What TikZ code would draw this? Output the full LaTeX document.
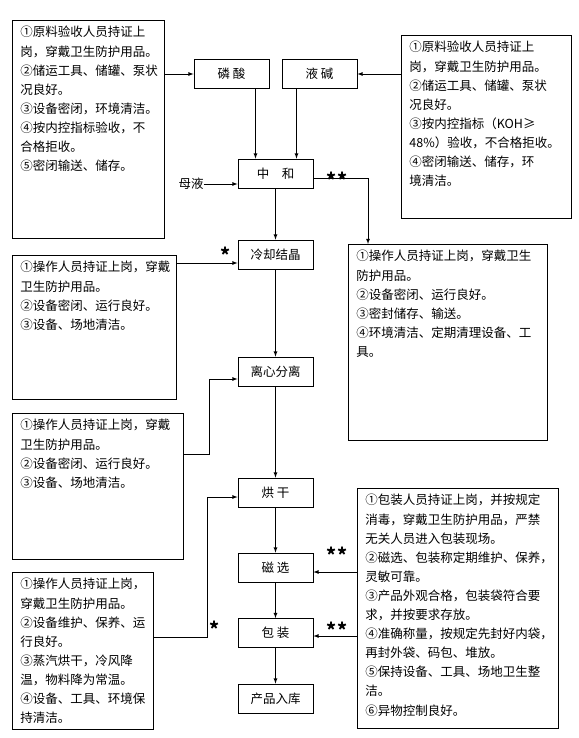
\documentclass[tikz,border=0pt]{standalone}
\usepackage{fontspec}
\setmainfont{Noto Sans CJK SC}

\newcommand{\notetext}[3]{\begin{minipage}[t][#2][t]{#1}#3\end{minipage}}

\tikzset{
	stepbox/.style={draw, line width=0.8pt, minimum width=75pt, minimum height=29pt, inner sep=0pt, font=\fontsize{12.5pt}{15pt}\selectfont},
	note/.style={draw, line width=0.8pt, anchor=north west, inner xsep=8pt, inner ysep=6pt, font=\fontsize{12.5pt}{19.1pt}\selectfont},
	arr/.style={-latex, line width=0.8pt},
	starlab/.style={inner sep=0pt, font=\bfseries\fontsize{19pt}{19pt}\selectfont}
}

\begin{document}
\begin{tikzpicture}[x=1pt,y=-1pt]
		\useasboundingbox (0,0) rectangle (578,738);
		% process steps
		\node[stepbox] (ls) at (231.5,74) {磷 酸};
		\node[stepbox] (yj) at (319.5,74) {液 碱};
		\node[stepbox] (zh) at (275.5,173.5) {中　和};
		\node[stepbox] (lq) at (275.5,254.5) {冷却结晶};
		\node[stepbox] (lx) at (275.5,371.5) {离心分离};
		\node[stepbox] (hg) at (275.5,492.5) {烘 干};
		\node[stepbox] (cx) at (275.5,567.5) {磁 选};
		\node[stepbox] (bz) at (275.5,633) {包 装};
		\node[stepbox] (rk) at (275.5,698.5) {产品入库};
		\node[inner sep=0pt, font=\fontsize{12.5pt}{15pt}\selectfont] (my) at (191,184) {母液};
		% notes
		\node[note] (lk1) at (12,20) {\notetext{136pt}{206pt}{%
			①原料验收人员持证上\\岗，穿戴卫生防护用品。\\②储运工具、储罐、泵状\\况良好。\\③设备密闭，环境清洁。\\④按内控指标验收，不\\合格拒收。\\⑤密闭输送、储存。}};
		\node[note] (rk1) at (401,35) {\notetext{154pt}{171pt}{%
			①原料验收人员持证上\\岗，穿戴卫生防护用品。\\②储运工具、储罐、泵状\\况良好。\\③按内控指标（KOH≥\\48\%）验收，不合格拒收。\\④密闭输送、储存，环\\境清洁。}};
		\node[note] (lk2) at (12,255) {\notetext{148pt}{132pt}{%
			①操作人员持证上岗，穿戴\\卫生防护用品。\\②设备密闭、运行良好。\\③设备、场地清洁。}};
		\node[note] (rk2) at (348,244) {\notetext{183pt}{184pt}{%
			①操作人员持证上岗，穿戴卫生\\防护用品。\\②设备密闭、运行良好。\\③密封储存、输送。\\④环境清洁、定期清理设备、工\\具。}};
		\node[note] (lk3) at (12,413) {\notetext{155pt}{134pt}{%
			①操作人员持证上岗，穿戴\\卫生防护用品。\\②设备密闭、运行良好。\\③设备、场地清洁。}};
		\node[note] (lk4) at (12,572) {\notetext{125pt}{145pt}{%
			①操作人员持证上岗，\\穿戴卫生防护用品。\\②设备维护、保养、运\\行良好。\\③蒸汽烘干，冷风降\\温，物料降为常温。\\④设备、工具、环境保\\持清洁。}};
		\node[note] (rk3) at (357,488) {\notetext{185pt}{228pt}{%
			①包装人员持证上岗，并按规定\\消毒，穿戴卫生防护用品，严禁\\无关人员进入包装现场。\\②磁选、包装称定期维护、保养，\\灵敏可靠。\\③产品外观合格，包装袋符合要\\求，并按要求存放。\\④准确称量，按规定先封好内袋，\\再封外袋、码包、堆放。\\⑤保持设备、工具、场地卫生整\\洁。\\⑥异物控制良好。}};
		% stars
		\node[starlab] (s1) at (337,180) {**};
		\node[starlab] (s2) at (226,255) {*};
		\node[starlab] (s3) at (337,555) {**};
		\node[starlab] (s4) at (337,630) {**};
		\node[starlab] (s5) at (215,629) {*};
		% connectors
		\draw[arr] (lk1.east |- ls.west) -- (ls.west);
		\draw[arr] (rk1.west |- yj.east) -- (yj.east);
		\draw[arr] ([xshift=-20pt]zh.north |- ls.south) -- ([xshift=-20pt]zh.north);
		\draw[arr] ([xshift=21pt]zh.north |- yj.south) -- ([xshift=21pt]zh.north);
		\draw[arr] (my.east) -- (my.east -| zh.west);
		\draw[arr] (zh) -- (lq);
		\draw[arr] ([yshift=-4.5pt]zh.east) -| ([xshift=20pt]rk2.north west);
		\draw[arr] ([yshift=-8.5pt]lq.west -| lk2.east) -- ([yshift=-8.5pt]lq.west);
		\draw[arr] (lq) -- (lx);
		\draw[arr] ([yshift=-41pt]lk3.north east) -- ++(26,0) |- ([yshift=-7.5pt]lx.west);
		\draw[arr] (lx) -- (hg);
		\draw[arr] ([yshift=-65pt]lk4.north east) -- ++(54,0) |- ([yshift=-4.5pt]hg.west);
		\draw[arr] (hg) -- (cx);
		\draw[arr] (cx) -- (bz);
		\draw[arr] (bz) -- (rk);
		\draw[arr] ([yshift=-4.5pt]cx.east -| rk3.west) -- ([yshift=-4.5pt]cx.east);
		\draw[arr] ([yshift=-3pt]bz.east -| rk3.west) -- ([yshift=-3pt]bz.east);
		\end{tikzpicture}
\end{document}
